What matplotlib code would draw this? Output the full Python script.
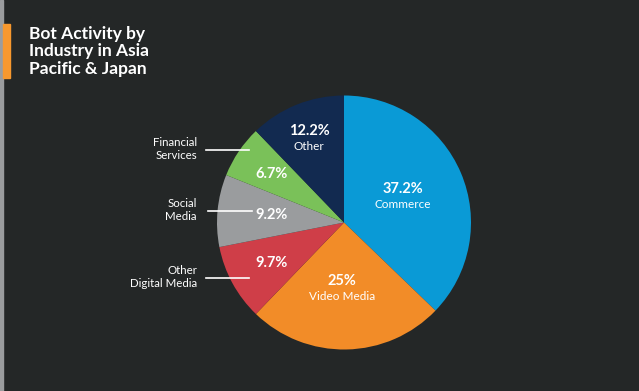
import matplotlib
matplotlib.use("Agg")
import matplotlib.pyplot as plt
from matplotlib.patches import Rectangle

categories = ["Commerce", "Video Media", "Other\nDigital Media", "Social\nMedia", "Financial\nServices", "Other"]
values = [37.2, 25.0, 9.7, 9.2, 6.7, 12.2]
pct_labels = ["37.2%", "25%", "9.7%", "9.2%", "6.7%", "12.2%"]
colors = ["#0a9ad6", "#f28c28", "#cf3e48", "#9a9c9e", "#7ac159", "#122a50"]
title = "Bot Activity by\nIndustry in Asia\nPacific & Japan"

W, H = 639, 391
BG = "#242727"
FONT = ["Lato", "DejaVu Sans"]

fig = plt.figure(figsize=(W / 100, H / 100), dpi=100)
fig.patch.set_facecolor(BG)

def fx(px):
    return px / W

def fy(py):
    return 1 - py / H

# left decorations
fig.patches.append(Rectangle((0, 0), fx(3), 1, transform=fig.transFigure, color="#9a9c9e", zorder=0))
fig.patches.append(Rectangle((fx(2.5), fy(78)), fx(7.5), (78 - 24) / H, transform=fig.transFigure, color="#f7982e", zorder=1))

fig.text(fx(29), fy(25.5), title, ha="left", va="top", color="white", fontsize=12.5,
         fontweight="bold", family=FONT, linespacing=1.13)

cx, cy, r = 344, 222.5, 127
ax = fig.add_axes([fx(cx - r), fy(cy + r), 2 * r / W, 2 * r / H])
ax.set_facecolor(BG)
ax.pie(values, colors=colors, startangle=90, counterclock=False, radius=1,
       wedgeprops=dict(linewidth=0))
ax.set_xlim(-1, 1)
ax.set_ylim(-1, 1)
ax.set_aspect("auto")
ax.axis("off")

# in-slice labels (pixel positions)
pct_pos = [(403, 189), (342, 281), (272, 263), (272, 215), (272, 174), (309, 131)]
name_pos = {0: (403, 205), 1: (342, 296), 5: (309, 146)}
for i, (lab, (px, py)) in enumerate(zip(pct_labels, pct_pos)):
    fig.text(fx(px), fy(py), lab, ha="center", va="center", color="white",
             fontsize=10.5, fontweight="bold", family=FONT)
    if i in name_pos:
        nx, ny = name_pos[i]
        fig.text(fx(nx), fy(ny), categories[i], ha="center", va="center",
                 color="white", fontsize=8.5, family=FONT)

# outside labels with leader lines
out = {4: (150, 206, 249), 3: (211, 208, 252), 2: (278, 206, 249)}
for i, (py, x0, x1) in out.items():
    fig.add_artist(plt.Line2D([fx(x0), fx(x1)], [fy(py), fy(py)], transform=fig.transFigure,
                              color="white", linewidth=1.2))
    fig.text(fx(197), fy(py - 1), categories[i], ha="right", va="center", color="white",
             fontsize=8.3, family=FONT, linespacing=1.15, multialignment="right")

fig.savefig("out.png", dpi=100, facecolor=BG)
